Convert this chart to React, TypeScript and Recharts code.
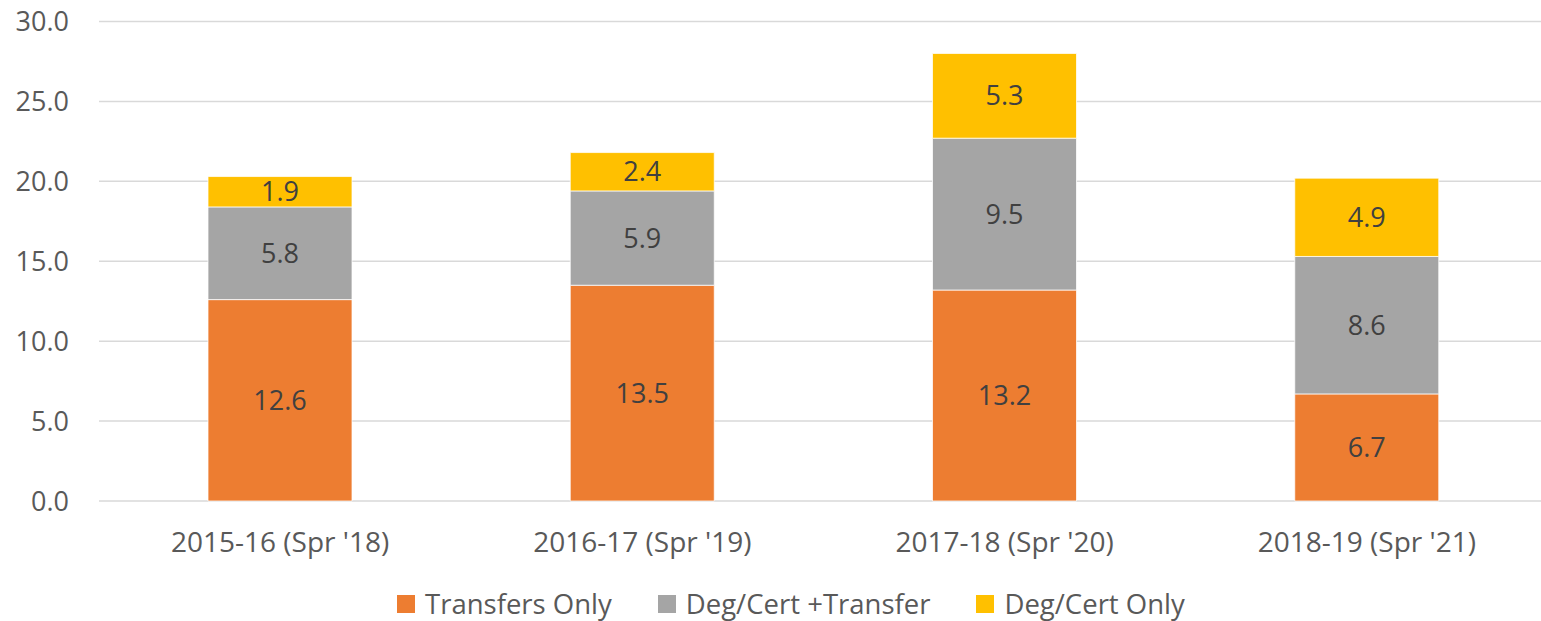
import { BarChart, Bar, XAxis, YAxis, CartesianGrid, Legend, LabelList } from "recharts";

const years = ["2015-16 (Spr '18)", "2016-17 (Spr '19)", "2017-18 (Spr '20)", "2018-19 (Spr '21)"];
const transfersOnly = [12.6, 13.5, 13.2, 6.7];
const degCertTransfer = [5.8, 5.9, 9.5, 8.6];
const degCertOnly = [1.9, 2.4, 5.3, 4.9];
const seriesNames = ["Transfers Only", "Deg/Cert +Transfer", "Deg/Cert Only"];
const yTicks = [0, 5, 10, 15, 20, 25, 30];

const data = years.map((year, i) => ({
  year,
  transfers: transfersOnly[i],
  both: degCertTransfer[i],
  degCert: degCertOnly[i],
}));

const FONT = "'Open Sans', 'Noto Sans', sans-serif";

const LegendContent = (props: any) => {
  const items = [...(props.payload || [])].sort(
    (a: any, b: any) => seriesNames.indexOf(a.value) - seriesNames.indexOf(b.value)
  );
  return (
    <div
      style={{
        height: 50,
        display: "flex",
        alignItems: "center",
        paddingTop: 15,
        paddingLeft: 397,
        boxSizing: "border-box",
        fontFamily: FONT,
        fontSize: 27.5,
        color: "#595959",
      }}
    >
      {items.map((it: any, i: number) => (
        <div key={i} style={{ display: "flex", alignItems: "center", marginRight: 46 }}>
          <span style={{ width: 18, height: 18, background: it.color, display: "inline-block", marginRight: 10 }} />
          <span style={{ lineHeight: 1, whiteSpace: "nowrap" }}>{it.value}</span>
        </div>
      ))}
    </div>
  );
};

const fmt = (v: any) => Number(v).toFixed(1);

export default function App() {
  return (
    <div style={{ position: "absolute", left: 0, top: 0, width: 1541, height: 621, overflow: "hidden", background: "#fff" }}>
      <BarChart
        width={1549}
        height={621}
        data={data}
        margin={{ top: 21.5, right: 1, left: 0, bottom: 0 }}
        style={{ fontFamily: FONT }}
      >
        <CartesianGrid vertical={false} stroke="#D9D9D9" strokeWidth={1.5} />
        <XAxis
          dataKey="year"
          axisLine={false}
          tickLine={false}
          tickSize={0}
          tickMargin={31}
          height={70}
          tick={{ fontSize: 28, fill: "#595959" }}
          interval={0}
        />
        <YAxis
          domain={[0, 30]}
          ticks={yTicks}
          width={99}
          axisLine={false}
          tickLine={false}
          tickSize={0}
          tickMargin={30}
          tickFormatter={fmt}
          tick={{ fontSize: 27, fill: "#595959" }}
        />
        <Legend verticalAlign="bottom" content={<LegendContent />} />
        <Bar dataKey="transfers" name={seriesNames[0]} stackId="a" fill="#ED7D31" stroke="#ffffff" strokeWidth={0.75} barSize={144} isAnimationActive={false}>
          <LabelList dataKey="transfers" position="center" fill="#404040" fontSize={27} formatter={fmt} />
        </Bar>
        <Bar dataKey="both" name={seriesNames[1]} stackId="a" fill="#A5A5A5" stroke="#ffffff" strokeWidth={0.75} barSize={144} isAnimationActive={false}>
          <LabelList dataKey="both" position="center" fill="#404040" fontSize={27} formatter={fmt} />
        </Bar>
        <Bar dataKey="degCert" name={seriesNames[2]} stackId="a" fill="#FFC000" stroke="#ffffff" strokeWidth={0.75} barSize={144} isAnimationActive={false}>
          <LabelList dataKey="degCert" position="center" fill="#404040" fontSize={27} formatter={fmt} />
        </Bar>
      </BarChart>
    </div>
  );
}
